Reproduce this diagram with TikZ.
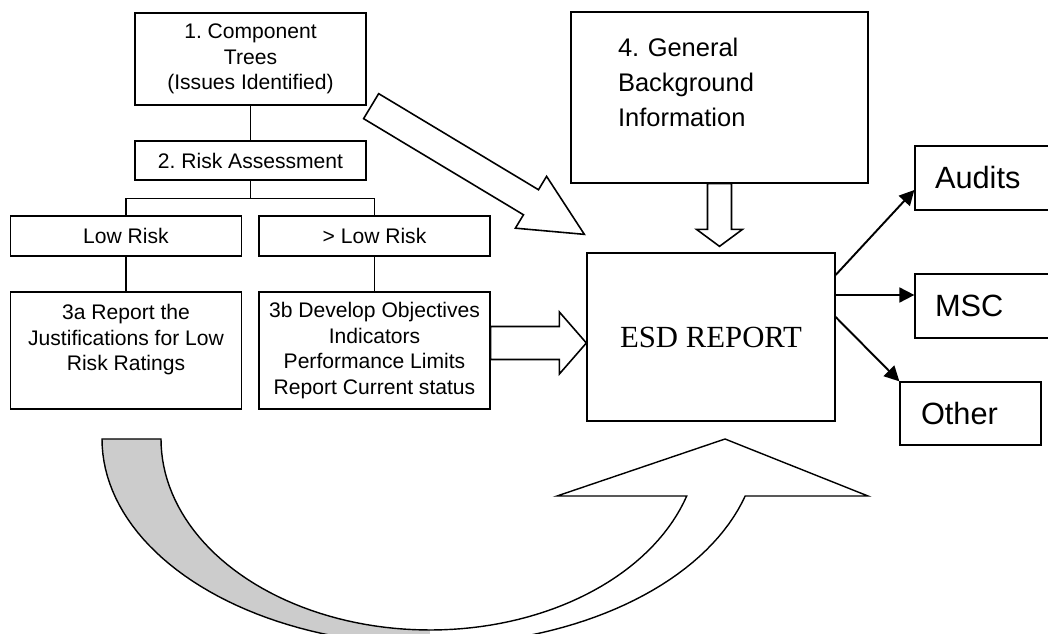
\documentclass[tikz,border=0pt]{standalone}
\usepackage{fontspec}
\setmainfont{Liberation Serif}
\setsansfont{Liberation Sans}
\usepackage{tikz}
\usetikzlibrary{arrows.meta,calc}
\frenchspacing

% hollow block arrow: start, tip, half shaft width, half head width, head length
\newcommand{\hollowarrow}[5]{%
  \coordinate (hs) at #1;
  \coordinate (he) at #2;
  \coordinate (hb) at ($(he)!#5!(hs)$);
  \draw[blockarr] ($(hs)!#3!90:(he)$) -- ($(hb)!#3!-90:(hs)$) -- ($(hb)!#4!-90:(hs)$) -- (he)
    -- ($(hb)!#4!90:(hs)$) -- ($(hb)!#3!90:(hs)$) -- ($(hs)!#3!-90:(he)$) -- cycle;
}

\begin{document}
\begin{tikzpicture}[x=0.02cm, y=-0.02cm,
    box/.style={rectangle, draw, line width=0.75pt, minimum width=4.62cm, align=center, inner xsep=2pt, font=\sffamily\fontsize{12}{14.6}\selectfont},
    outbox/.style={rectangle, draw, line width=0.75pt, minimum height=1.28cm, align=left, inner xsep=0.4cm, text width=2.5cm, font=\sffamily\fontsize{17.5}{21}\selectfont},
    outarr/.style={-{Triangle[length=8.5pt,width=8.5pt]}, line width=1.1pt},
    blockarr/.style={draw, fill=white, line width=0.9pt, line join=miter},
    link/.style={line width=0.75pt},
  ]
    \useasboundingbox (0,0) rectangle (1048,634);
    \clip (0,0) rectangle (1048,634);

    % Curved return arrow under the tree
    \fill[black!20] plot[domain=180:90, samples=50] ({430+328*cos(\x)},{439+206*sin(\x)})
      -- plot[domain=90:180, samples=50] ({430+269*cos(\x)},{439+191*sin(\x)}) -- cycle;
    \fill[white] plot[domain=90:16.06, samples=50] ({430+328*cos(\x)},{439+206*sin(\x)})
      -- (868,496) -- (725,439) -- (557,496)
      -- plot[domain=17.36:90, samples=50] ({430+269*cos(\x)},{439+191*sin(\x)}) -- cycle;
    \draw[line width=0.8pt, line join=miter] plot[domain=180:17.36, samples=80] ({430+269*cos(\x)},{439+191*sin(\x)})
      -- (557,496) -- (725,439) -- (868,496)
      -- plot[domain=16.06:180, samples=80] ({430+328*cos(\x)},{439+206*sin(\x)}) -- cycle;

    % Tree of steps
    \node[box, minimum height=1.84cm] (b1) at (250.5,59) {1. Component\\Trees\\(Issues Identified)};
    \node[box, minimum height=0.78cm] (b2) at (250.5,160.5) {2. Risk Assessment};
    \node[box, minimum height=0.8cm] (low) at (126,236) {Low Risk};
    \node[box, minimum height=0.8cm] (high) at (374.5,236) {> Low Risk};
    \node[box, minimum height=2.34cm] (r3a) at (126,350.5) {3a Report the\\Justifications for Low\\Risk Ratings\\\mbox{}};
    \node[box, minimum height=2.34cm] (r3b) at (374.5,350.5) {3b Develop Objectives\\Indicators\\Performance Limits\\Report Current status};

    \draw[link] (b1) -- (b2);
    \draw[link] (b2.south) -- ++(0,18) coordinate (fork);
    \draw[link] (fork) -| (low.north);
    \draw[link] (fork) -| (high.north);
    \draw[link] (low) -- (r3a);
    \draw[link] (high) -- (r3b);

    % Background box and report
    \node[rectangle, draw, line width=0.75pt, minimum width=5.94cm, minimum height=3.42cm, text width=4.06cm, inner xsep=0.94cm, align=left, font=\sffamily\fontsize{14.5}{20}\selectfont] (bg4) at (719.5,97.5) {4. General\\Background\\Information\\[-3pt]\mbox{}};
    \node[rectangle, draw, line width=0.75pt, minimum width=4.96cm, minimum height=3.36cm, font=\rmfamily\fontsize{17.5}{21}\selectfont] (esd) at (711,337) {ESD REPORT};

    % Outputs
    \node[outbox] (aud) at (997.5,178) {Audits};
    \node[outbox] (msc) at (997.5,306) {MSC};
    \node[outbox, text width=1.98cm, inner xsep=0.42cm, minimum height=1.26cm] (oth) at (970.5,413.5) {Other};

    \draw[outarr] ($(esd.east)+(0,-62)$) -- ($(aud.west)+(0,12)$);
    \draw[outarr] ($(esd.east)+(0,-42)$) -- ($(msc.west)+(0,-11)$);
    \draw[outarr] ($(esd.east)+(0,-20)$) -- (oth.north west);

    % Block arrows into the report
    \hollowarrow{($(b1.south east)+(4.5,0.5)$)}{($(esd.north west)+(-2,-18)$)}{0.292cm}{0.605cm}{1.246cm}
    \hollowarrow{($(r3b.east)+(0,-7.5)$)}{($(esd.west)+(0,6)$)}{0.33cm}{0.62cm}{0.54cm}
    \hollowarrow{(bg4.south)}{($(esd.north)+(8.5,-6)$)}{0.24cm}{0.46cm}{0.34cm}

  \end{tikzpicture}
\end{document}
